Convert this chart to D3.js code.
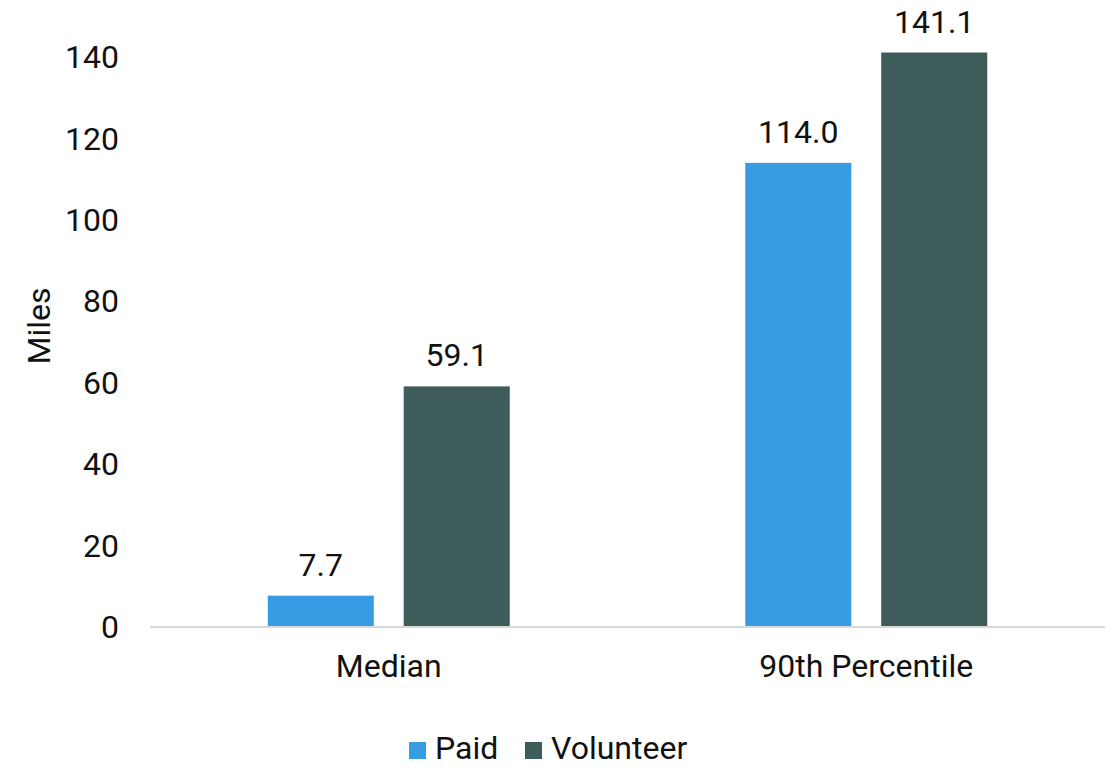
<!DOCTYPE html>
<html>
<head>
<meta charset="utf-8">
<script src="https://cdn.jsdelivr.net/npm/d3@7"></script>
<style>
  body { margin: 0; background: #fff; }
  text { font-family: Roboto, "Noto Sans", sans-serif; fill: #111; }
</style>
</head>
<body>
<div id="chart"></div>
<script>
var categories = ["Median", "90th Percentile"];
var seriesNames = ["Paid", "Volunteer"];
var paid = [7.7, 114.0];
var volunteer = [59.1, 141.1];
var yTicks = [0, 20, 40, 60, 80, 100, 120, 140];
var colors = ["#389ce2", "#3e5c5a"];

var W = 1113, H = 768;
var margin = {top: 57, left: 150, right: 8, bottom: 141};
var width = W - margin.left - margin.right,
    height = H - margin.top - margin.bottom;

var svg = d3.select("#chart").append("svg")
    .attr("width", W)
    .attr("height", H);

var g = svg.append("g")
    .attr("transform", "translate(" + margin.left + "," + margin.top + ")");

var x0 = d3.scaleBand()
    .domain(categories)
    .range([0, width]);

var x1 = d3.scaleBand()
    .domain(seriesNames)
    .range([0, 242])
    .paddingInner(0.22);

var y = d3.scaleLinear()
    .domain([0, 140])
    .range([height, 0]);

var color = d3.scaleOrdinal().domain(seriesNames).range(colors);

var rows = categories.map(function(c, i) {
  return {cat: c, values: [{name: "Paid", v: paid[i]}, {name: "Volunteer", v: volunteer[i]}]};
});

// y tick labels (no axis line)
g.selectAll(".ytick")
  .data(yTicks)
  .enter().append("text")
  .attr("class", "ytick")
  .attr("x", -31)
  .attr("y", function(d) { return y(d); })
  .attr("dy", "0.35em")
  .attr("text-anchor", "end")
  .style("font-size", "32px")
  .text(function(d) { return d; });

var groups = g.selectAll(".grp")
  .data(rows)
  .enter().append("g")
  .attr("class", "grp")
  .attr("transform", function(d) {
    return "translate(" + (x0(d.cat) + x0.bandwidth() / 2 - 121) + ",0)";
  });

groups.selectAll("rect")
  .data(function(d) { return d.values; })
  .enter().append("rect")
  .attr("x", function(d) { return x1(d.name); })
  .attr("width", x1.bandwidth())
  .attr("y", function(d) { return y(d.v); })
  .attr("height", function(d) { return height - y(d.v); })
  .attr("fill", function(d) { return color(d.name); });

groups.selectAll(".lbl")
  .data(function(d) { return d.values; })
  .enter().append("text")
  .attr("class", "lbl")
  .attr("x", function(d) { return x1(d.name) + x1.bandwidth() / 2; })
  .attr("y", function(d) { return y(d.v) - 20; })
  .attr("text-anchor", "middle")
  .style("font-size", "32px")
  .text(function(d) { return d.v.toFixed(1); });

// baseline
g.append("line")
  .attr("x1", 0).attr("x2", width)
  .attr("y1", y(0)).attr("y2", y(0))
  .attr("stroke", "#d9d9d9")
  .attr("stroke-width", 2);

// category labels
g.selectAll(".xlbl")
  .data(categories)
  .enter().append("text")
  .attr("class", "xlbl")
  .attr("x", function(d) { return x0(d) + x0.bandwidth() / 2; })
  .attr("y", height + 50)
  .attr("text-anchor", "middle")
  .style("font-size", "32px")
  .text(function(d) { return d; });

// y axis title
svg.append("text")
  .attr("transform", "translate(50,326) rotate(-90)")
  .attr("text-anchor", "middle")
  .style("font-size", "32px")
  .text("Miles");

// legend
var legend = svg.append("g").attr("transform", "translate(409,0)");
var legX = [0, 116];
var leg = legend.selectAll(".leg")
  .data(seriesNames)
  .enter().append("g")
  .attr("class", "leg")
  .attr("transform", function(d, i) { return "translate(" + legX[i] + ",742)"; });
leg.append("rect")
  .attr("width", 17)
  .attr("height", 17)
  .attr("fill", function(d) { return color(d); });
leg.append("text")
  .attr("x", 26)
  .attr("y", 17)
  .style("font-size", "32px")
  .text(function(d) { return d; });
</script>
</body>
</html>
